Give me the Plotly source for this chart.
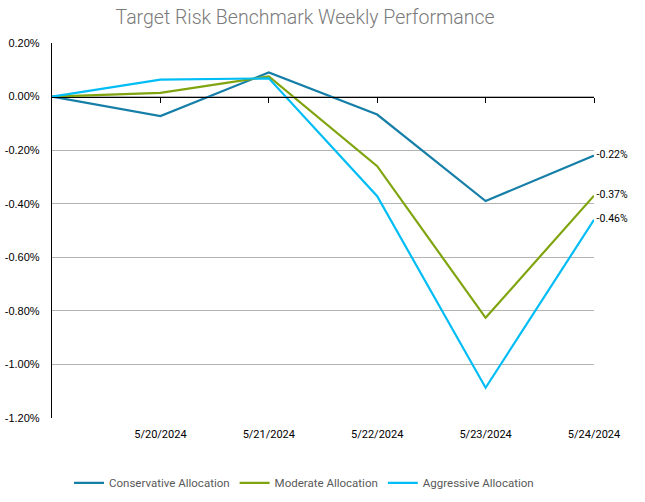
import plotly.graph_objects as go

# ---- data ----
categories = ["", "5/20/2024", "5/21/2024", "5/22/2024", "5/23/2024", "5/24/2024"]
conservative = [0.0, -0.073, 0.090, -0.067, -0.390, -0.22]
moderate = [0.0, 0.014, 0.075, -0.260, -0.826, -0.37]
aggressive = [0.0, 0.063, 0.068, -0.372, -1.087, -0.46]
series_names = ["Conservative Allocation", "Moderate Allocation", "Aggressive Allocation"]
y_tick_vals = [0.2, 0.0, -0.2, -0.4, -0.6, -0.8, -1.0, -1.2]
y_tick_text = ["0.20%", "0.00%", "-0.20%", "-0.40%", "-0.60%", "-0.80%", "-1.00%", "-1.20%"]

colors = ["#167FA8", "#7FA40E", "#00BDF5"]
narrow = "Roboto, Liberation Sans, Arial"

x_idx = list(range(len(categories)))

fig = go.Figure()
for name, vals, col in zip(series_names, [conservative, moderate, aggressive], colors):
    labels = [""] * (len(vals) - 1) + [f" {vals[-1]:.2f}%"]
    fig.add_trace(go.Scatter(
        x=x_idx, y=vals, name=name, mode="lines+text",
        line=dict(color=col, width=2.2),
        text=labels, textposition="middle right",
        textfont=dict(family="Roboto, Liberation Sans", size=10.5, color="#000000"),
        cliponaxis=False, hoverinfo="x+y",
    ))

# invisible trace to show the zero-line axis with tick marks
fig.add_trace(go.Scatter(x=x_idx, y=[0] * len(x_idx), xaxis="x2", mode="lines",
                         line=dict(width=0), showlegend=False, hoverinfo="skip"))

fig.update_layout(
    width=645, height=502,
    margin=dict(l=52, r=51, t=43, b=84, autoexpand=False),
    paper_bgcolor="white", plot_bgcolor="white",
    title=dict(text="Target Risk Benchmark Weekly Performance", x=0.473, xanchor="center",
               y=0.966, yanchor="middle",
               font=dict(family=narrow, size=19.5, color="#7A7A7A", weight=300)),
    xaxis=dict(range=[0, 5], tickvals=x_idx, ticktext=categories, showgrid=False,
               zeroline=False, showline=False, ticks="", ticklabelstandoff=8,
               tickfont=dict(family=narrow, size=11, color="#000000")),
    xaxis2=dict(range=[0, 5], overlaying="x", anchor="free", position=1.2 / 1.4,
                side="bottom", tickvals=x_idx[1:], showticklabels=False, ticks="outside",
                ticklen=5, tickcolor="#000000", tickwidth=1, showline=True,
                linecolor="#000000", linewidth=1.3, showgrid=False, zeroline=False),
    yaxis=dict(range=[-1.2, 0.2], tickvals=y_tick_vals, ticktext=y_tick_text,
               showgrid=True, gridcolor="#B3B3B3", gridwidth=1, zeroline=False,
               showline=True, linecolor="#000000", linewidth=1.3, ticks="outside",
               ticklen=0, ticklabelstandoff=9,
               tickfont=dict(family="Liberation Sans, Arial", size=11, color="#000000")),
    legend=dict(orientation="h", x=0.465, xanchor="center", y=-0.173, yanchor="middle",
                font=dict(family=narrow, size=11.5, color="#595959"), itemwidth=30,
                tracegroupgap=0),
    showlegend=True,
)

fig.write_html("out.html", config={"displayModeBar": False},
               post_script="document.body.style.margin='0px';")
